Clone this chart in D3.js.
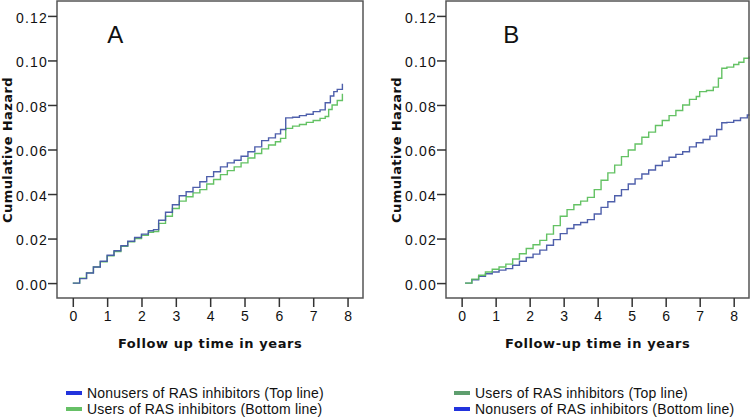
<!DOCTYPE html>
<html><head><meta charset="utf-8">
<script src="https://cdn.jsdelivr.net/npm/d3@7"></script>
<style>body{margin:0;background:#fff;}svg{display:block;}</style>
</head><body>
<svg id="c" width="751" height="418"></svg>
<script>
// ---- Data ----
const xTicks = [0,1,2,3,4,5,6,7,8];
const yTicks = [0.00,0.02,0.04,0.06,0.08,0.10,0.12];

// Panel A
const aNonusersT = [0,0.2,0.4,0.6,0.8,1.0,1.2,1.4,1.6,1.8,2.0,2.2,2.35,2.5,2.7,2.9,3.1,3.3,3.5,3.7,3.9,4.1,4.3,4.5,4.7,4.9,5.1,5.3,5.5,5.7,5.9,6.05,6.2,6.4,6.6,6.8,7.0,7.2,7.35,7.5,7.6,7.7,7.85];
const aNonusersV = [0,0.0020,0.0045,0.0072,0.0098,0.0125,0.0145,0.0168,0.0188,0.0205,0.0220,0.0235,0.0240,0.0282,0.0318,0.0352,0.0392,0.0410,0.0430,0.0455,0.0478,0.0500,0.0522,0.0540,0.0552,0.0570,0.0590,0.0612,0.0640,0.0652,0.0670,0.0690,0.0742,0.0745,0.0752,0.0758,0.0770,0.0778,0.0810,0.0840,0.0860,0.0870,0.0895];
const aUsersT = [0,0.2,0.4,0.6,0.8,1.0,1.2,1.4,1.6,1.8,2.0,2.2,2.35,2.5,2.7,2.9,3.1,3.3,3.5,3.7,3.9,4.1,4.3,4.5,4.7,4.9,5.1,5.3,5.5,5.7,5.9,6.05,6.2,6.4,6.6,6.8,7.0,7.2,7.35,7.45,7.55,7.7,7.85];
const aUsersV = [0,0.0022,0.0046,0.0072,0.0096,0.0122,0.0142,0.0165,0.0185,0.0200,0.0215,0.0228,0.0232,0.0268,0.0300,0.0335,0.0368,0.0388,0.0405,0.0420,0.0445,0.0465,0.0487,0.0505,0.0522,0.0540,0.0562,0.0582,0.0603,0.0620,0.0635,0.0650,0.0695,0.0705,0.0712,0.0722,0.0730,0.0740,0.0748,0.0780,0.0800,0.0820,0.0850];

// Panel B
const bUsersT = [0.1,0.3,0.5,0.7,0.9,1.1,1.3,1.5,1.7,1.9,2.1,2.3,2.5,2.7,2.9,3.1,3.3,3.5,3.7,3.9,4.1,4.3,4.5,4.7,4.9,5.1,5.3,5.5,5.7,5.9,6.1,6.3,6.5,6.7,6.9,7.0,7.2,7.4,7.55,7.65,7.8,8.0,8.15,8.3,8.45];
const bUsersV = [0,0.0018,0.0035,0.0050,0.0062,0.0072,0.0085,0.0108,0.0132,0.0155,0.0172,0.0192,0.0220,0.0258,0.0300,0.0330,0.0352,0.0368,0.0385,0.0420,0.0462,0.0495,0.0530,0.0568,0.0598,0.0625,0.0655,0.0678,0.0708,0.0730,0.0752,0.0775,0.0800,0.0825,0.0838,0.0860,0.0865,0.0880,0.0920,0.0965,0.0970,0.0982,0.0992,0.1010,0.1018];
const bNonusersT = [0.1,0.3,0.5,0.7,0.9,1.1,1.3,1.5,1.7,1.9,2.1,2.3,2.5,2.7,2.9,3.1,3.3,3.5,3.7,3.9,4.1,4.3,4.5,4.7,4.9,5.1,5.3,5.5,5.7,5.9,6.1,6.3,6.5,6.7,6.9,7.1,7.3,7.5,7.65,7.8,8.0,8.2,8.4,8.45];
const bNonusersV = [0,0.0015,0.0030,0.0042,0.0050,0.0058,0.0065,0.0080,0.0098,0.0115,0.0130,0.0148,0.0170,0.0195,0.0222,0.0245,0.0262,0.0272,0.0285,0.0310,0.0340,0.0365,0.0392,0.0420,0.0445,0.0468,0.0490,0.0508,0.0528,0.0548,0.0565,0.0578,0.0590,0.0612,0.0630,0.0645,0.0660,0.0690,0.0720,0.0722,0.0730,0.0742,0.0755,0.0758];

const legendA = ["Nonusers of RAS inhibitors (Top line)","Users of RAS inhibitors (Bottom line)"];
const legendB = ["Users of RAS inhibitors (Top line)","Nonusers of RAS inhibitors (Bottom line)"];

// ---- Styles ----
const BLUE_LINE = "#4456a6", GREEN_LINE = "#5cbf5c";
const BLUE_KEY = "#2233dd", GREEN_KEY_A = "#66c066", GREEN_KEY_B = "#5e9e6e";
const svg = d3.select("#c");

function zip(t, v){ return t.map((d,i)=>[d, v[i]]); }

function panel(opts){
  const {left, right, label, xTitle, series, legend, legendX, keyColors} = opts;
  const top = 1, bottom = 298;
  const x = d3.scaleLinear().domain([-0.46, 8.45]).range([left, right]);
  const y = d3.scaleLinear().domain([-0.0067, 0.1267]).range([bottom, top]);
  const g = svg.append("g");

  const line = d3.line().x(d=>x(d[0])).y(d=>y(d[1])).curve(d3.curveStepAfter);
  series.forEach(s=>{
    g.append("path").attr("d", line(s.data)).attr("fill","none")
      .attr("stroke", s.color).attr("stroke-width",1.4).attr("opacity",0.95);
  });

  g.append("rect").attr("x",left).attr("y",top).attr("width",right-left).attr("height",bottom-top)
    .attr("fill","none").attr("stroke","#555").attr("stroke-width",1.5);

  const ya = g.append("g").attr("transform",`translate(${left},0)`)
    .call(d3.axisLeft(y).tickValues(yTicks).tickFormat(d3.format(".2f")).tickSize(9).tickSizeOuter(0));
  ya.select(".domain").remove();
  ya.selectAll("line").attr("stroke","#333").attr("stroke-width",1.5);
  ya.selectAll("text").attr("font-family","Liberation Sans, Arial, sans-serif").attr("font-size",14)
    .attr("letter-spacing","1.2px").attr("fill","#111").attr("dy","0.45em").attr("x",-9);

  const xa = g.append("g").attr("transform",`translate(0,${bottom})`)
    .call(d3.axisBottom(x).tickValues(xTicks).tickFormat(d3.format("d")).tickSize(9).tickSizeOuter(0));
  xa.select(".domain").remove();
  xa.selectAll("line").attr("stroke","#333").attr("stroke-width",1.5);
  xa.selectAll("text").attr("font-family","Liberation Sans, Arial, sans-serif").attr("font-size",14)
    .attr("fill","#111").attr("y",13);

  g.append("text").attr("x",(x(0)+x(8))/2).attr("y",348).attr("text-anchor","middle")
    .attr("font-family","DejaVu Sans, sans-serif").attr("font-weight","bold").attr("font-size",13)
    .attr("letter-spacing","0.6px").attr("fill","#111").text(xTitle);
  g.append("text").attr("transform",`translate(${left-45},${150}) rotate(-90)`).attr("text-anchor","middle")
    .attr("font-family","DejaVu Sans, sans-serif").attr("font-weight","bold").attr("font-size",13)
    .attr("letter-spacing","0.4px").attr("fill","#111").text("Cumulative Hazard");

  g.append("text").attr("x",x(label.t)).attr("y",y(label.v)).attr("font-family","Liberation Sans, Arial, sans-serif")
    .attr("font-size",24).attr("fill","#111").text(label.text);

  legend.forEach((txt,i)=>{
    const yy = 393 + i*16;
    g.append("line").attr("x1",legendX).attr("x2",legendX+16).attr("y1",yy).attr("y2",yy)
      .attr("stroke",keyColors[i]).attr("stroke-width",4);
    g.append("text").attr("x",legendX+21).attr("y",yy+5).attr("font-family","Liberation Sans, Arial, sans-serif")
      .attr("font-size",14).attr("letter-spacing","0.2px").attr("fill","#111").text(txt);
  });
}

panel({left:57, right:363, label:{t:1.0, v:0.108, text:"A"}, xTitle:"Follow up time in years",
  series:[{data:zip(aUsersT,aUsersV), color:GREEN_LINE},{data:zip(aNonusersT,aNonusersV), color:BLUE_LINE}],
  legend:legendA, legendX:66, keyColors:[BLUE_KEY, GREEN_KEY_A]});

panel({left:446, right:749, label:{t:1.22, v:0.108, text:"B"}, xTitle:"Follow-up time in years",
  series:[{data:zip(bNonusersT,bNonusersV), color:BLUE_LINE},{data:zip(bUsersT,bUsersV), color:GREEN_LINE}],
  legend:legendB, legendX:454, keyColors:[GREEN_KEY_B, BLUE_KEY]});
</script>
</body></html>
